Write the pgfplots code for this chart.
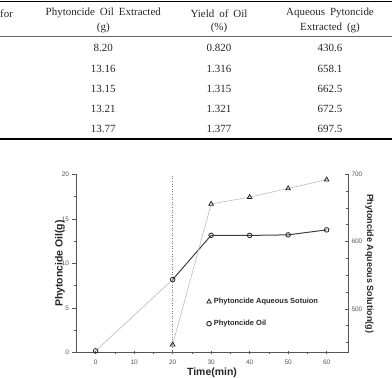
\documentclass[border=0pt]{standalone}
\usepackage{fontspec}
\setmainfont{Liberation Serif}
\newfontfamily\chartfont{Liberation Sans}
\newfontfamily\tickfont{Liberation Sans}
\usepackage{pgfplots}
\pgfplotsset{compat=1.18}
\definecolor{axgray}{HTML}{555555}
\definecolor{lightln}{HTML}{BBBBBB}
\definecolor{darkln}{HTML}{404040}
\begin{document}
\begin{tikzpicture}
\useasboundingbox (0bp,0bp) rectangle (392bp,378bp);
% ---------- table ----------
\draw[line width=1.6bp] (0bp,376.3bp) -- (392bp,376.3bp);
\draw[line width=0.5bp, black!60] (0bp,341.3bp) -- (392bp,341.3bp);
\draw[line width=1.8bp] (0bp,238.7bp) -- (392bp,238.7bp);
\begin{scope}[every node/.style={font=\fontsize{11}{13}\selectfont, inner sep=0pt, text=black!85}]
\node[anchor=west] at (0bp,364.7bp) {for};
\node at (103.3bp,364.7bp) {Phytoncide\hspace{0.45em}Oil\hspace{0.45em}Extracted};
\node at (103.3bp,350bp) {(g)};
\node at (219bp,364.7bp) {Yield\hspace{0.45em}of\hspace{0.45em}Oil};
\node at (219bp,350bp) {(\%)};
\node at (330bp,364.7bp) {Aqueous\hspace{0.45em}Pytoncide};
\node at (330bp,350bp) {Extracted\hspace{0.45em}(g)};
\node at (103.3bp,330.3bp) {8.20};
\node at (103.3bp,309bp) {13.16};
\node at (103.3bp,288.7bp) {13.15};
\node at (103.3bp,268.7bp) {13.21};
\node at (103.3bp,248.7bp) {13.77};
\node at (219bp,330.3bp) {0.820};
\node at (219bp,309bp) {1.316};
\node at (219bp,288.7bp) {1.315};
\node at (219bp,268.7bp) {1.321};
\node at (219bp,248.7bp) {1.377};
\node at (330bp,330.3bp) {430.6};
\node at (330bp,309bp) {658.1};
\node at (330bp,288.7bp) {662.5};
\node at (330bp,268.7bp) {672.5};
\node at (330bp,248.7bp) {697.5};
\end{scope}
% ---------- chart ----------
\pgfplotsset{
  common/.style={
    at={(76bp,25.3bp)}, anchor=south west,
    scale only axis, width=272bp, height=178.4bp,
    xmin=-5.1, xmax=65.55,
    axis line style={-, line width=0.9bp, color=axgray},
    tick style={axgray, line width=0.7bp},
    major tick length=3.5bp, minor tick length=2.2bp,
    ticklabel style={font=\tickfont\fontsize{6.5}{7.5}\selectfont, text=axgray},
    /pgf/number format/assume math mode=true,
    label style={font=\chartfont\bfseries\fontsize{10.5}{12}\selectfont, text=black!85},
    clip=false,
  }
}
\begin{axis}[common,
  ymin=0, ymax=20,
  axis x line*=bottom, axis y line*=left,
  xtick={0,10,...,60}, minor xtick={5,15,...,55},
  ytick={0,5,...,20}, minor ytick={2.5,7.5,12.5,17.5},
  x tick style={/pgfplots/tick align=center},
  tick align=outside,
  xlabel={Time(min)}, ylabel={Phytoncide Oil(g)},
  ylabel shift=-10bp,
  xlabel shift=-3.5bp,
]
\addplot[black!50, dotted, line width=0.6bp] coordinates {(20,0) (20,20)};
\addplot[lightln, line width=0.6bp] coordinates {(0,0.2) (20,8.2)};
\addplot[darkln, line width=1bp, mark=o, mark size=2.3bp,
  mark options={solid, fill=white, line width=0.8bp, draw=black!85}]
  coordinates {(20,8.20) (30,13.16) (40,13.15) (50,13.21) (60,13.77)};
\addplot[only marks, mark=o, mark size=2.3bp,
  mark options={solid, fill=white, line width=0.8bp, draw=black!85}]
  coordinates {(0,0.2)};
\end{axis}
\begin{axis}[common,
  ymin=435, ymax=700,
  axis x line=none, axis y line*=right,
  ytick={500,600,700}, minor ytick={450,475,525,550,575,625,650,675},
  tick align=inside,
  ylabel={Phytoncide Aqueous Solution(g)},
  ylabel shift=-4bp,
  ylabel style={rotate=180, font=\chartfont\bfseries\fontsize{9}{10}\selectfont},
  legend style={at={(axis description cs:0.48,0.32)}, anchor=north west, draw=none, fill=none,
    font=\chartfont\bfseries\fontsize{7.5}{9}\selectfont, row sep=10bp, inner sep=0pt,
    nodes={inner sep=2.5bp, text=black!85}},
  legend cell align=left,
  legend image code/.code={\draw[#1] plot coordinates {(0bp,0bp)};},
]
\addplot[lightln, line width=0.6bp, mark=triangle, mark size=2.6bp,
  mark options={solid, fill=white, line width=0.8bp, draw=black!85}, forget plot]
  coordinates {(20,447) (30,656) (40,666) (50,679) (60,692)};
\addlegendimage{only marks, mark=triangle, mark size=2.6bp, mark options={line width=0.8bp, draw=black!85}}
\addlegendentry{Phytoncide Aqueous Sotuion}
\addlegendimage{only marks, mark=o, mark size=2.3bp, mark options={line width=0.9bp, draw=black!85}}
\addlegendentry{Phytoncide Oil}
\end{axis}
\end{tikzpicture}
\end{document}
